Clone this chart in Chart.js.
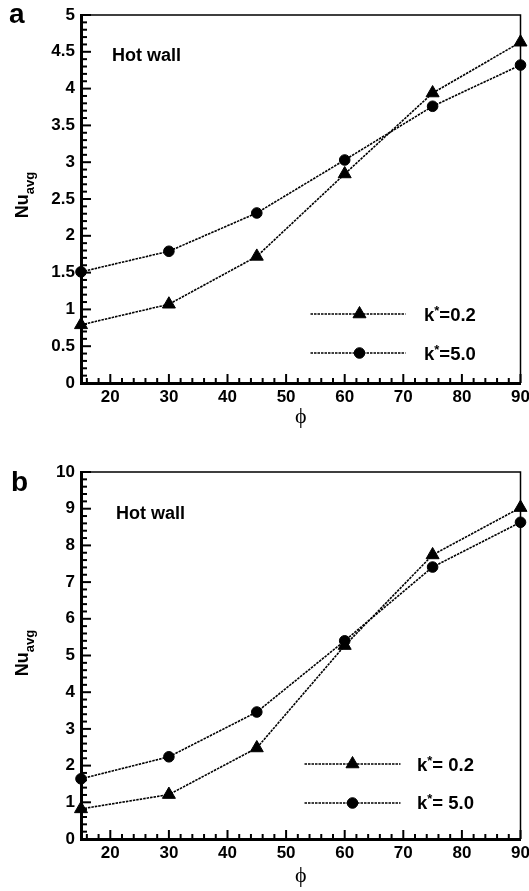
<!DOCTYPE html>
<html><head><meta charset="utf-8">
<script src="https://cdn.jsdelivr.net/npm/chart.js@4/dist/chart.umd.min.js"></script>
<style>
html,body{margin:0;padding:0;background:#fff;}
body{width:529px;height:891px;position:relative;overflow:hidden;font-family:'Liberation Sans',Arial,sans-serif;}
.panel{position:absolute;left:0;width:529px;}
canvas{display:block;}
.lbl{position:absolute;font-weight:bold;color:#000;white-space:nowrap;line-height:1;}
.lbl sup{font-size:13px;line-height:0;vertical-align:6px;}
.ytitle{position:absolute;width:120px;height:24px;line-height:24px;text-align:center;transform:rotate(-90deg);font-weight:bold;font-size:18px;white-space:nowrap;}
.ytitle sub{font-size:13px;line-height:0;vertical-align:-6px;}
</style></head>
<body>
<div class="panel" style="top:0;height:445px"><canvas id="ca" width="529" height="445"></canvas></div>
<div class="panel" style="top:445px;height:446px"><canvas id="cb" width="529" height="446"></canvas></div>

<div class="lbl" style="left:9px;top:0px;font-size:28px">a</div>
<div class="lbl" style="left:11px;top:468px;font-size:28px">b</div>
<div class="lbl" style="left:112px;top:46px;font-size:18px">Hot wall</div>
<div class="lbl" style="left:116px;top:504px;font-size:18px">Hot wall</div>
<div class="lbl" style="left:424px;top:306px;font-size:18.5px">k<sup>*</sup>=0.2</div>
<div class="lbl" style="left:424px;top:345px;font-size:18.5px">k<sup>*</sup>=5.0</div>
<div class="lbl" style="left:417px;top:756px;font-size:18.5px">k<sup>*</sup>= 0.2</div>
<div class="lbl" style="left:417px;top:794px;font-size:18.5px">k<sup>*</sup>= 5.0</div>
<div class="ytitle" style="left:-38px;top:183px">Nu<sub>avg</sub></div>
<div class="ytitle" style="left:-38px;top:641px">Nu<sub>avg</sub></div>

<script>
// ---- data ----
const phi = [15, 30, 45, 60, 75, 90];
const aK02 = [0.79, 1.07, 1.72, 2.84, 3.94, 4.63];
const aK50 = [1.51, 1.79, 2.31, 3.03, 3.76, 4.32];
const bK02 = [0.82, 1.21, 2.48, 5.27, 7.74, 9.03];
const bK50 = [1.64, 2.24, 3.46, 5.40, 7.41, 8.63];
const seriesNames = ['k*=0.2', 'k*=5.0'];
const xTickLabels = [20, 30, 40, 50, 60, 70, 80, 90];
const yTickLabelsA = [0, 0.5, 1, 1.5, 2, 2.5, 3, 3.5, 4, 4.5, 5];
const yTickLabelsB = [0, 1, 2, 3, 4, 5, 6, 7, 8, 9, 10];
const xMinorStep = 2, yMinorStepA = 0.1, yMinorStepB = 0.2;

function stepTicks(from, to, step) {
  const out = [];
  const n = Math.round((to - from) / step);
  for (let i = 0; i <= n; i++) out.push({ value: Math.round((from + i * step) * 1000) / 1000 });
  return out;
}
function isIn(list, v) { return list.some(u => Math.abs(u - v) < 1e-6); }

const innerTicks = {
  id: 'innerTicks',
  beforeDatasetsDraw(chart, args, o) {
    const ctx = chart.ctx, ca = chart.chartArea;
    const xs = chart.scales.x, ys = chart.scales.y;
    ctx.save();
    ctx.strokeStyle = '#000';
    ctx.lineWidth = 2;
    ctx.lineCap = 'butt';
    xs.ticks.forEach(t => {
      const px = xs.getPixelForValue(t.value);
      const L = isIn(o.xMajor, t.value) ? 9 : 5;
      ctx.beginPath(); ctx.moveTo(px, ca.bottom); ctx.lineTo(px, ca.bottom - L); ctx.stroke();
    });
    ys.ticks.forEach(t => {
      const py = ys.getPixelForValue(t.value);
      const L = isIn(o.yMajor, t.value) ? 10 : 6;
      ctx.beginPath(); ctx.moveTo(ca.left, py); ctx.lineTo(ca.left + L, py); ctx.stroke();
    });
    // thin top and right frame
    ctx.lineWidth = 1.5;
    ctx.beginPath();
    ctx.moveTo(ca.left, ca.top); ctx.lineTo(ca.right, ca.top); ctx.lineTo(ca.right, ca.bottom);
    ctx.stroke();
    ctx.restore();
  },
  afterDatasetsDraw(chart, args, o) {
    const ctx = chart.ctx, ca = chart.chartArea;
    const lg = o.legend;
    chart.data.datasets.forEach((ds, i) => {
      const y = ca.bottom - lg.rows[i];
      const x0 = ca.right - lg.x0, x1 = ca.right - lg.x1, xm = ca.right - lg.xm;
      ctx.save();
      ctx.strokeStyle = '#000';
      ctx.lineWidth = ds.borderWidth;
      ctx.setLineDash(ds.borderDash);
      ctx.beginPath(); ctx.moveTo(x0, y); ctx.lineTo(x1, y); ctx.stroke();
      ctx.setLineDash([]);
      ctx.fillStyle = '#000';
      ctx.lineWidth = 1;
      Chart.helpers.drawPoint(ctx, { pointStyle: ds.pointStyle, radius: ds.pointRadius, borderWidth: 1, rotation: 0 }, xm, y);
      ctx.restore();
    });
  }
};

function makeChart(id, k02, k50, yMax, yStep, yLabels, pad, titlePadBottom, legend) {
  const tickFont = { family: "'Liberation Sans', Arial, sans-serif", size: 17, weight: 'bold' };
  const common = {
    borderColor: '#000', backgroundColor: '#000', borderWidth: 1.6, borderDash: [2.5, 1],
    pointBorderColor: '#000', pointBackgroundColor: '#000', pointBorderWidth: 1,
    fill: false, tension: 0, clip: false
  };
  return new Chart(document.getElementById(id), {
    type: 'line',
    data: {
      labels: phi,
      datasets: [
        Object.assign({ label: seriesNames[0], data: phi.map((x, i) => ({ x, y: k02[i] })), pointStyle: 'triangle', pointRadius: 7.5 }, common),
        Object.assign({ label: seriesNames[1], data: phi.map((x, i) => ({ x, y: k50[i] })), pointStyle: 'circle', pointRadius: 5.3 }, common)
      ]
    },
    options: {
      responsive: false, animation: false, events: [],
      layout: { padding: pad },
      plugins: { legend: { display: false }, tooltip: { enabled: false },
        innerTicks: { xMajor: xTickLabels, yMajor: yLabels, legend } },
      scales: {
        x: {
          type: 'linear', min: 15, max: 90,
          grid: { display: false, drawTicks: false },
          border: { display: true, color: '#000', width: 3 },
          afterBuildTicks: s => { s.ticks = stepTicks(16, 90, xMinorStep); },
          afterFit: s => { s.height = 50; s.paddingLeft = 0; s.paddingRight = 0; },
          ticks: { autoSkip: false, maxRotation: 0, minRotation: 0, padding: 4, color: '#000', font: tickFont,
            callback: v => isIn(xTickLabels, v) ? String(v) : '' },
          title: { display: true, text: 'ϕ', color: '#000', padding: { top: 0, bottom: titlePadBottom },
            font: { family: "'Liberation Serif', 'DejaVu Serif', serif", size: 22 } }
        },
        y: {
          type: 'linear', min: 0, max: yMax,
          grid: { display: false, drawTicks: false },
          border: { display: true, color: '#000', width: 3 },
          afterBuildTicks: s => { s.ticks = stepTicks(0, yMax, yStep); },
          afterFit: s => { s.width = 81; s.paddingTop = 0; s.paddingBottom = 0; },
          ticks: { autoSkip: false, padding: 6, color: '#000', font: tickFont,
            callback: v => isIn(yLabels, v) ? String(v) : '' }
        }
      }
    },
    plugins: [innerTicks]
  });
}

makeChart('ca', aK02, aK50, 5, yMinorStepA, yTickLabelsA,
  { left: 0, top: 15, right: 6, bottom: 12 }, 3,
  { x0: 210, x1: 115, xm: 161, rows: [69, 30] });
makeChart('cb', bK02, bK50, 10, yMinorStepB, yTickLabelsB,
  { left: 0, top: 27, right: 6, bottom: 2 }, 0,
  { x0: 216, x1: 120, xm: 168, rows: [75, 36] });
</script>
</body></html>
